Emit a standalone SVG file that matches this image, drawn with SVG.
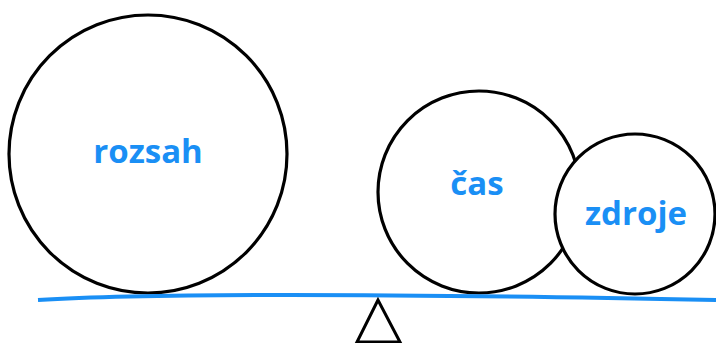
<svg xmlns="http://www.w3.org/2000/svg" width="716" height="343" viewBox="0 0 716 343">
<style>
.c{fill:#fff;stroke:#000;stroke-width:3.2}
.t{font-family:"Open Sans","DejaVu Sans",sans-serif;font-weight:bold;font-size:33px;fill:#1a8ff5;text-anchor:middle}
</style>
<rect width="716" height="343" fill="#fff"/>
<g id="rozsah"><circle class="c" cx="148" cy="154" r="139"/><text class="t" x="148" y="163">rozsah</text></g>
<g id="cas"><circle class="c" cx="479" cy="192" r="101"/><text class="t" x="477" y="195">čas</text></g>
<g id="zdroje"><circle class="c" cx="635" cy="214" r="80"/><text class="t" x="636" y="225">zdroje</text></g>
<g id="beam"><path d="M38,300 Q200,290 716,300" fill="none" stroke="#1a8ff5" stroke-width="4"/></g>
<g id="fulcrum"><path d="M378,300 L357,342 L400,342 Z" fill="none" stroke="#000" stroke-width="3" stroke-linejoin="miter"/></g>
</svg>
